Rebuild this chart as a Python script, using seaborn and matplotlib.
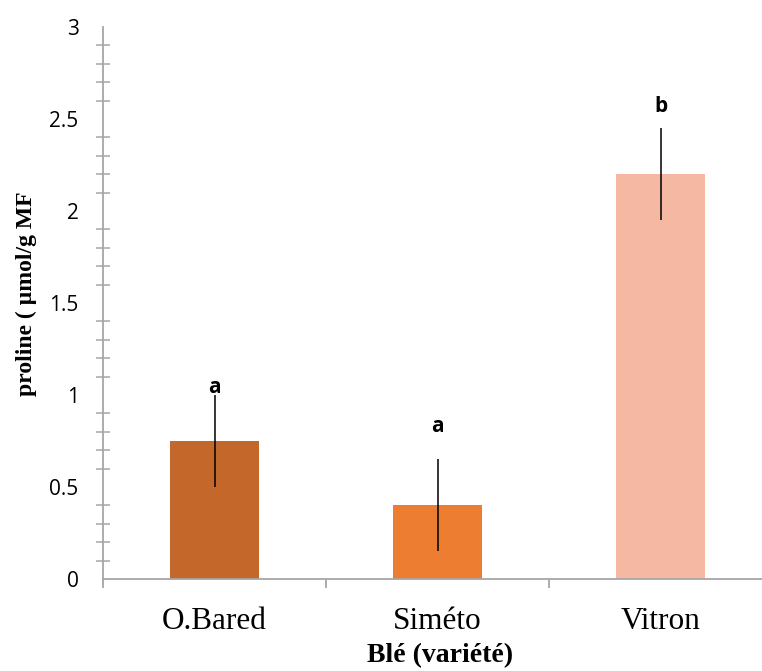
import matplotlib
matplotlib.use("agg")
import matplotlib.pyplot as plt
import numpy as np
import pandas as pd
import seaborn as sns
from matplotlib.ticker import MultipleLocator, FixedLocator

# data
varieties = ["O.Bared", "Siméto", "Vitron"]
proline = [0.75, 0.40, 2.20]
errors = [0.25, 0.25, 0.25]
letters = ["a", "a", "b"]
letter_y = [1.04, 0.83, 2.57]
colors = ["#C4672B", "#ED7D31", "#F4B8A3"]

df = pd.DataFrame({"variete": varieties, "proline": proline})

sns.set_style("white")
plt.rcParams["font.family"] = ["Open Sans", "DejaVu Sans"]

fig = plt.figure(figsize=(7.62, 6.71), dpi=100)
ax = fig.add_axes([103 / 762, 92 / 671, 659 / 762, 552 / 671])

sns.barplot(
    data=df,
    x="variete",
    y="proline",
    hue="variete",
    palette=colors,
    legend=False,
    width=0.40,
    errorbar=None,
    saturation=1,
    linewidth=0,
    ax=ax,
)
ax.errorbar(
    np.arange(len(varieties)), proline, yerr=errors,
    fmt="none", ecolor="black", elinewidth=1.1, capsize=0,
)

for i, (lab, yy) in enumerate(zip(letters, letter_y)):
    ax.text(i, yy, lab, ha="center", va="center", fontsize=15,
            fontweight="bold", color="black")

ax.set_xlim(-0.5, -0.5 + 659 / 223)
ax.set_ylim(0, 3)

sns.despine(ax=ax, top=True, right=True)
grey = "#A6A6A6"
for s in ["left", "bottom"]:
    ax.spines[s].set_color(grey)
    ax.spines[s].set_linewidth(1.3)

ax.yaxis.set_major_locator(MultipleLocator(0.5))
ax.yaxis.set_minor_locator(MultipleLocator(0.1))
ax.set_yticks([0, 0.5, 1, 1.5, 2, 2.5, 3])
ax.set_yticklabels(["0", "0.5", "1", "1.5", "2", "2.5", "3"])
ax.tick_params(axis="y", which="major", direction="inout", length=11,
               width=1.3, color=grey, pad=12, labelsize=15,
               labelcolor="black")
ax.tick_params(axis="y", which="minor", direction="inout", length=10,
               width=1.1, color=grey, left=True)

ax.xaxis.set_minor_locator(FixedLocator([-0.5, 0.5, 1.5, 2.5]))
ax.tick_params(axis="x", which="major", direction="inout", length=10,
               width=1.1, color=grey, pad=15, labelcolor="black")
ax.tick_params(axis="x", which="minor", direction="out", length=6.5,
               width=1.3, color=grey, bottom=True)
for t in ax.get_xticklabels():
    t.set_fontfamily("Liberation Serif")
    t.set_fontsize(22.5)

ax.set_xlabel("Blé (variété)", fontfamily="Liberation Serif",
              fontweight="bold", fontsize=20, color="black")
ax.set_ylabel("proline ( µmol/g MF", fontfamily="Liberation Serif",
              fontweight="bold", fontsize=17, color="black")
ax.xaxis.set_label_coords(0.511, -0.117)
ax.yaxis.set_label_coords(-0.100, 0.516)

fig.savefig("out.png", dpi=100)
